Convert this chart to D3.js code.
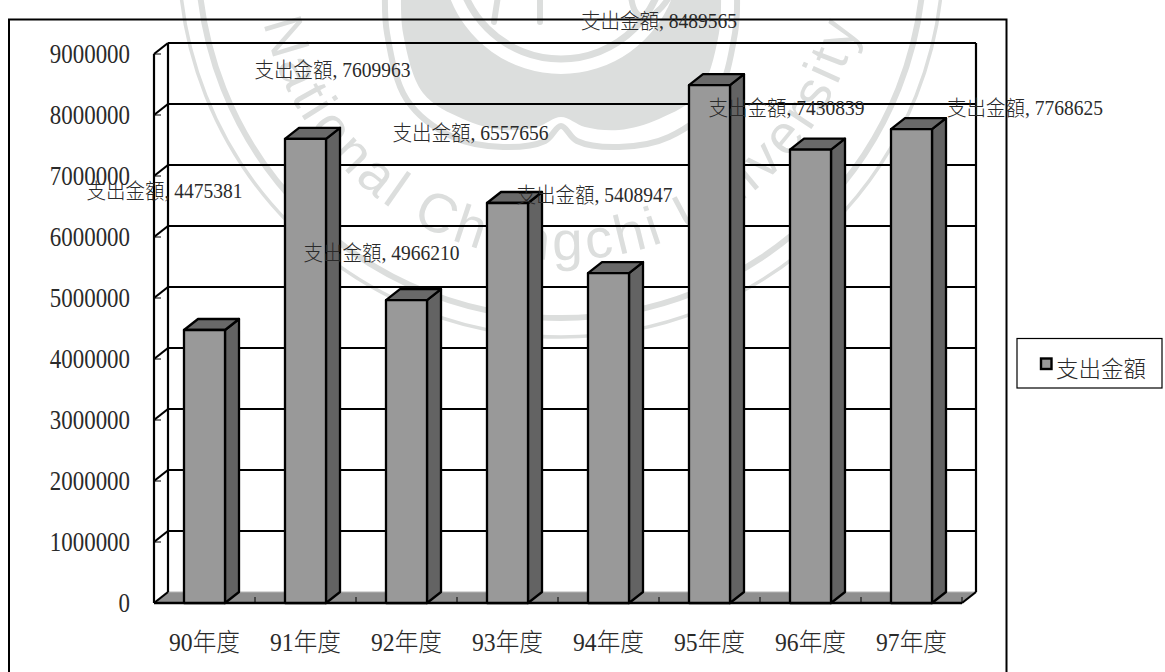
<!DOCTYPE html>
<html lang="zh-Hant">
<head>
<meta charset="utf-8">
<title>支出金額</title>
<script src="https://cdn.jsdelivr.net/npm/d3@7/dist/d3.min.js"></script>
<style>
  html, body { margin: 0; background: #fff; }
  svg { display: block; }
  text { font-family: "Liberation Serif", "Noto Sans CJK TC", serif; fill: #2a2a2a; font-weight: 300; }
  .seal-text { font-family: "Liberation Sans", "DejaVu Sans", sans-serif; fill: #dcdedd; font-weight: 400; }
</style>
</head>
<body>
<svg id="chart" width="1165" height="672"></svg>
<script>
// Annual expenditure by fiscal year
const categories = ["90年度", "91年度", "92年度", "93年度", "94年度", "95年度", "96年度", "97年度"];
const spending = [4475381, 7609963, 4966210, 6557656, 5408947, 8489565, 7430839, 7768625];
const seriesName = "支出金額";
const yTicks = [0, 1000000, 2000000, 3000000, 4000000, 5000000, 6000000, 7000000, 8000000, 9000000];

// Hand-placed label anchors, one per year
const labelCenterX = [164.5, 332.5, 381.5, 470.5, 594.5, 659, 786.5, 1025];
const labelBaseline = [198, 77, 260, 140, 202, 28, 115, 115];

const svg = d3.select("#chart");

// University seal behind the chart
const sealInk = "#dcdedd";
const sealX = 561, sealY = -45;
const seal = svg.append("g");

const curve = d3.line().curve(d3.curveCatmullRom.alpha(0.5));
const mirror = pts => pts.concat(pts.slice(0, -1).reverse().map(([x, y]) => [2 * sealX - x, y]));

const lobeEdge = [[401, -6], [403, 33], [423, 93], [463, 119], [503, 130], [537, 127], [561, 117]];
const lobeOutline = curve(mirror(lobeEdge));
const innerArcR = 119;
seal.append("path")
  .attr("fill", sealInk)
  .attr("d", lobeOutline +
    `L${sealX + Math.sqrt(innerArcR * innerArcR - 39 * 39)},-6` +
    `A${innerArcR},${innerArcR} 0 0 1 ${sealX - Math.sqrt(innerArcR * innerArcR - 39 * 39)},-6Z`);

const ringEdge = [[385, -6], [387, 33], [407, 100], [453, 137], [503, 147], [545, 141], [561, 126]];
seal.append("path")
  .attr("fill", "none").attr("stroke", sealInk).attr("stroke-width", 6)
  .attr("d", curve(mirror(ringEdge)));

const addCircle = (r, w) => seal.append("circle")
  .attr("cx", sealX).attr("cy", sealY).attr("r", r)
  .attr("fill", "none").attr("stroke", sealInk).attr("stroke-width", w);
addCircle(104, 7);
addCircle(363, 6);
addCircle(382, 3.5);

seal.append("path")
  .attr("fill", "none").attr("stroke", sealInk).attr("stroke-width", 6).attr("stroke-linecap", "round")
  .attr("d", "M540,-4L540,22M498,-4L494,22M631,-4C634,24 652,24 670,-4");

const textR = 305;
const startA = 12.8 * Math.PI / 180, endA = 13.5 * Math.PI / 180;
svg.append("defs").append("path")
  .attr("id", "seal-arc")
  .attr("d", `M${sealX - textR * Math.cos(startA)},${sealY + textR * Math.sin(startA)}` +
             `A${textR},${textR} 0 0 0 ${sealX + textR * Math.cos(endA)},${sealY + textR * Math.sin(endA)}`);
seal.append("text").attr("class", "seal-text")
  .attr("font-size", 55)
  .append("textPath")
  .attr("href", "#seal-arc")
  .attr("textLength", 818)
  .attr("lengthAdjust", "spacing")
  .text("National Chengchi University");

// Outer chart frame, running past the lower edge of the page
svg.append("rect")
  .attr("x", 9).attr("y", 19.5).attr("width", 997.5).attr("height", 680)
  .attr("fill", "none").attr("stroke", "#000").attr("stroke-width", 2);

// Scales for the front plane; the back wall is offset by the depth vector
const depthX = 14, depthY = -11;
const x = d3.scaleBand().domain(categories).range([154, 962]).paddingInner(0.594).paddingOuter(0.297);
const y = d3.scaleLinear().domain([0, 9000000]).range([603, 54]);
const pts = a => a.map(p => p.join(",")).join(" ");

const [x0, x1] = x.range();
const wall = svg.append("g").attr("stroke", "#000").attr("stroke-width", 2.2).attr("fill", "none");

// Floor
wall.append("polygon")
  .attr("fill", "#8f8f8f").attr("stroke", "none")
  .attr("points", pts([[x0, y(0)], [x1, y(0)], [x1 + depthX, y(0) + depthY], [x0 + depthX, y(0) + depthY]]));

// Gridlines on the back wall and their diagonals on the side wall
wall.selectAll("line.grid").data(yTicks).join("line").attr("class", "grid")
  .attr("x1", x0 + depthX).attr("x2", x1 + depthX)
  .attr("y1", d => y(d) + depthY).attr("y2", d => y(d) + depthY)
  .attr("stroke", d => d === 0 ? "#b5b5b5" : "#000")
  .attr("stroke-width", d => d === 0 ? 1.2 : 2.2);
wall.selectAll("line.diag").data(yTicks).join("line").attr("class", "diag")
  .attr("x1", x0).attr("x2", x0 + depthX)
  .attr("y1", d => y(d)).attr("y2", d => y(d) + depthY);
wall.selectAll("line.ytick").data(yTicks).join("line").attr("class", "ytick")
  .attr("stroke-width", 1)
  .attr("x1", x0).attr("x2", x0 + 7)
  .attr("y1", d => y(d)).attr("y2", d => y(d));

// Wall edges
[[x0, x0, y(0), y(9000000)],
 [x0 + depthX, x0 + depthX, y(0) + depthY, y(9000000) + depthY],
 [x1 + depthX, x1 + depthX, y(0) + depthY, y(9000000) + depthY],
 [x1, x1 + depthX, y(0), y(0) + depthY]].forEach(([a, b, c, d]) =>
  wall.append("line").attr("x1", a).attr("x2", b).attr("y1", c).attr("y2", d));

// Category tick marks on the floor's front edge
const step = x.step();
wall.selectAll("line.xtick").data(d3.range(1, categories.length + 1)).join("line").attr("class", "xtick")
  .attr("stroke-width", 1)
  .attr("x1", i => x0 + i * step).attr("x2", i => x0 + i * step)
  .attr("y1", y(0)).attr("y2", y(0) - 6);
wall.append("line").attr("x1", x0).attr("x2", x1).attr("y1", y(0)).attr("y2", y(0)).attr("stroke-width", 2.6);

// Columns: side, top, then front face
const bars = svg.append("g").attr("stroke", "#000").attr("stroke-width", 2.3).attr("stroke-linejoin", "round")
  .selectAll("g").data(spending).join("g");
const bw = x.bandwidth();
const left = (d, i) => x(categories[i]);
bars.append("polygon").attr("fill", "#636363")
  .attr("points", (d, i) => {
    const r = left(d, i) + bw;
    return pts([[r, y(d)], [r + depthX, y(d) + depthY], [r + depthX, y(0) + depthY], [r, y(0)]]);
  });
bars.append("polygon").attr("fill", "#696969")
  .attr("points", (d, i) => {
    const l = left(d, i);
    return pts([[l, y(d)], [l + depthX, y(d) + depthY], [l + bw + depthX, y(d) + depthY], [l + bw, y(d)]]);
  });
bars.append("rect").attr("fill", "#999")
  .attr("x", left).attr("width", bw)
  .attr("y", d => y(d)).attr("height", d => y(0) - y(d));

// Axes carry only their tick labels; the 3D walls above draw the rules
const yAxis = svg.append("g").attr("transform", `translate(${x0},0)`)
  .call(d3.axisLeft(y).tickValues(yTicks).tickFormat(d3.format("d")).tickSize(0).tickPadding(24));
yAxis.select(".domain").remove();
yAxis.attr("font-family", null);
yAxis.selectAll("text")
  .attr("font-size", 27)
  .attr("textLength", d => String(d).length * 11.45)
  .attr("lengthAdjust", "spacingAndGlyphs");

const xAxis = svg.append("g").attr("transform", `translate(0,${y(0)})`)
  .call(d3.axisBottom(x).tickSize(0));
xAxis.select(".domain").remove();
xAxis.attr("font-family", null);
xAxis.selectAll("text")
  .attr("font-size", 25)
  .attr("y", 48).attr("dy", 0)
  .attr("textLength", 71)
  .attr("lengthAdjust", "spacingAndGlyphs");

// Value labels, read from the same series as the columns
svg.append("g").selectAll("text").data(spending).join("text")
  .attr("x", (d, i) => labelCenterX[i])
  .attr("y", (d, i) => labelBaseline[i])
  .attr("text-anchor", "middle")
  .attr("font-size", 21)
  .attr("textLength", 156)
  .attr("lengthAdjust", "spacingAndGlyphs")
  .text(d => `${seriesName}, ${d}`);

// Legend
const legend = svg.append("g");
legend.append("rect")
  .attr("x", 1017).attr("y", 338.5).attr("width", 145).attr("height", 49.5)
  .attr("fill", "#fff").attr("stroke", "#000").attr("stroke-width", 1.2);
legend.append("rect")
  .attr("x", 1041).attr("y", 358.5).attr("width", 10.5).attr("height", 10.5)
  .attr("fill", "#999").attr("stroke", "#000").attr("stroke-width", 2.4);
legend.append("text")
  .attr("x", 1056).attr("y", 376.5).attr("font-size", 22.5)
  .text(seriesName);
</script>
</body>
</html>
